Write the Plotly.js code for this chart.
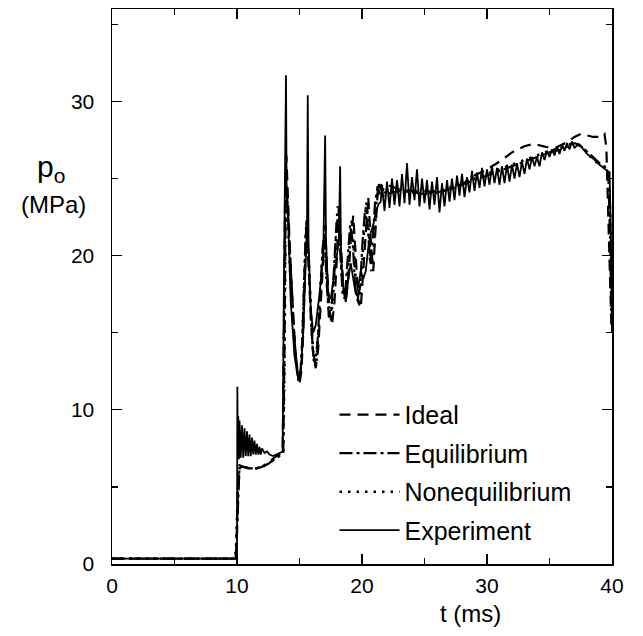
<!DOCTYPE html>
<html>
<head>
<meta charset="utf-8">
<script src="https://cdn.plot.ly/plotly-3.0.1.min.js"></script>
<style>html,body{margin:0;padding:0;background:#fff;}#chart{width:643px;height:636px;}</style>
</head>
<body>
<div id="chart"></div>
<script>
// ---- data ----
const seriesNames = ["Ideal", "Equilibrium", "Nonequilibrium", "Experiment"];

const idealT = [0, 9.9, 10.0, 10.1, 10.2, 10.5, 11.0, 11.5, 12.0, 12.5, 13.0, 13.4, 13.65, 13.75, 13.85, 13.95, 14.2, 14.5, 14.8, 15.0, 15.15, 15.3, 15.45, 15.55, 15.7, 15.9, 16.1, 16.3, 16.5, 16.7, 16.9, 17.05, 17.2, 17.4, 17.6, 17.8, 18.0, 18.15, 18.3, 18.5, 18.7, 18.9, 19.1, 19.3, 19.5, 19.7, 19.9, 20.1, 20.3, 20.5, 20.7, 20.9, 21.1, 21.3, 21.6, 22, 23, 24, 25, 26, 27, 28, 29, 30, 31, 32, 33, 33.5, 34, 34.5, 35, 35.5, 36, 36.5, 37, 37.5, 38, 38.5, 39, 39.4, 39.55, 39.65, 39.8, 39.95];
const idealP = [0.35, 0.35, 2.5, 5.5, 6.4, 6.3, 6.2, 6.2, 6.3, 6.6, 6.9, 7.1, 7.3, 15, 24, 26.5, 21, 16, 12.5, 11.7, 12.5, 15, 19, 22.3, 20, 16, 13.5, 12.7, 14, 17, 20, 22, 19, 16.5, 15.5, 17, 20, 23.2, 21, 18, 17, 18.5, 21, 22.6, 20, 17, 16.6, 19, 22, 23.8, 21, 19, 22, 24.7, 24.2, 24.6, 24.3, 24.2, 24.2, 24.1, 24.3, 24.6, 25.2, 25.6, 26.1, 26.7, 27.1, 27.2, 27.2, 27.1, 27.0, 27.0, 27.2, 27.4, 27.7, 27.9, 27.8, 27.7, 27.7, 27.9, 27.0, 24, 19, 15.4];

const equilT = [0, 9.9, 10.0, 10.1, 10.2, 10.5, 11.0, 11.5, 12.0, 12.5, 13.0, 13.4, 13.7, 13.8, 13.9, 14.0, 14.3, 14.6, 14.9, 15.05, 15.2, 15.35, 15.5, 15.65, 15.85, 16.05, 16.25, 16.45, 16.65, 16.85, 17.0, 17.15, 17.35, 17.55, 17.75, 17.95, 18.1, 18.25, 18.45, 18.65, 18.85, 19.05, 19.25, 19.45, 19.65, 19.85, 20.05, 20.25, 20.45, 20.65, 20.85, 21.05, 21.25, 21.5, 22, 23, 24, 25, 26, 27, 28, 29, 30, 31, 32, 33, 34, 35, 36, 36.5, 37, 37.4, 37.8, 38.2, 38.6, 39, 39.4, 39.7, 39.85, 39.95];
const equilP = [0.35, 0.35, 2, 5, 6.3, 6.3, 6.2, 6.2, 6.3, 6.5, 6.8, 7.0, 7.2, 14, 25, 24, 19, 14.5, 12.0, 12.2, 14, 17.5, 21.5, 21, 17, 14, 13.0, 14.5, 17.5, 20.5, 21.5, 18.5, 16, 16.5, 19, 22, 22.5, 20, 17.5, 17.5, 20, 22, 21, 18, 17.2, 18, 21, 23, 22, 19.5, 21, 23.5, 24.5, 23.8, 24.0, 24.2, 24.1, 24.0, 24.1, 24.3, 24.6, 24.9, 25.2, 25.5, 25.8, 26.1, 26.4, 26.7, 26.9, 27.1, 27.3, 27.2, 26.9, 26.6, 26.3, 26.0, 25.8, 25.5, 21, 16];

const noneqT = [0, 9.85, 9.95, 10.05, 10.2, 10.5, 11.0, 11.5, 12.0, 12.5, 13.0, 13.4, 13.7, 13.8, 13.9, 14.05, 14.3, 14.6, 14.9, 15.1, 15.25, 15.4, 15.55, 15.75, 15.95, 16.15, 16.35, 16.55, 16.75, 16.95, 17.1, 17.3, 17.5, 17.7, 17.9, 18.05, 18.2, 18.4, 18.6, 18.8, 19.0, 19.2, 19.35, 19.55, 19.75, 19.95, 20.15, 20.35, 20.55, 20.75, 20.95, 21.15, 21.4, 21.7, 22, 23, 24, 25, 26, 27, 28, 29, 30, 31, 32, 33, 34, 35, 36, 36.5, 37, 37.5, 37.9, 38.3, 38.7, 39.1, 39.5, 39.75, 39.9, 39.98];
const noneqP = [0.35, 0.35, 1.5, 4.5, 6.2, 6.3, 6.2, 6.2, 6.3, 6.5, 6.8, 7.0, 7.2, 13, 24.5, 23, 18, 14, 11.9, 12.4, 15, 19, 22.2, 19.5, 15.5, 13.2, 13.0, 15.5, 19, 21, 20, 17, 15.8, 17.5, 21, 23.2, 22, 18.5, 17.2, 18, 20.5, 22.4, 20.5, 17.5, 16.8, 18.5, 21.5, 23.5, 21.5, 19, 20.5, 23.5, 24.8, 24.2, 24.0, 24.3, 24.2, 24.0, 24.2, 24.4, 24.7, 25.0, 25.3, 25.6, 25.9, 26.2, 26.5, 26.8, 27.0, 27.2, 27.3, 27.1, 26.8, 26.4, 26.1, 25.9, 25.6, 25.4, 21.5, 16.5];

const expT = [0, 9.95, 10.0, 10.03, 10.06, 10.1, 10.15, 10.2, 10.3, 10.4, 10.5, 10.6, 10.7, 10.8, 10.9, 11.0, 11.1, 11.2, 11.3, 11.4, 11.5, 11.6, 11.7, 11.8, 11.9, 12.0, 12.2, 12.4, 12.6, 12.9, 13.2, 13.5, 13.65,
  13.75, 13.85, 13.92, 13.97, 14.1, 14.3, 14.6, 14.9, 15.1, 15.3, 15.45, 15.6, 15.66, 15.72, 15.9, 16.1, 16.3, 16.6, 16.9, 17.05, 17.12, 17.3, 17.5, 17.7, 17.9, 18.15, 18.25, 18.32, 18.5, 18.7, 18.9, 19.1, 19.3, 19.5, 19.7, 19.9, 20.1, 20.3, 20.5, 20.7, 20.9, 21.1, 21.3, 21.5,
  21.6, 21.8, 22.0, 22.2, 22.4, 22.6, 22.8, 23.0, 23.2, 23.4, 23.6, 23.8, 24.0, 24.2, 24.4, 24.6, 24.8, 25.0, 25.2, 25.4, 25.6, 25.8, 26.0, 26.2, 26.4, 26.6, 26.8, 27.0, 27.2, 27.4, 27.6, 27.8, 28.0, 28.2, 28.4, 28.6, 28.8, 29.0, 29.2, 29.4, 29.6, 29.8,
  30.0, 30.2, 30.4, 30.6, 30.8, 31.0, 31.2, 31.4, 31.6, 31.8, 32.0, 32.2, 32.4, 32.6, 32.8, 33.0, 33.2, 33.4, 33.6, 33.8, 34.0, 34.2, 34.4, 34.6, 34.8, 35.0, 35.2, 35.4, 35.6, 35.8, 36.0, 36.2, 36.4, 36.6, 36.8, 37.0,
  37.3, 37.6, 38.0, 38.5, 39.0, 39.5, 39.8, 39.9, 40.0];
const expP = [0.35, 0.35, 0.5, 11.5, 7.0, 9.6, 6.8, 9.3, 6.9, 9.0, 6.9, 8.8, 7.0, 8.6, 7.0, 8.4, 7.0, 8.2, 7.1, 8.0, 7.1, 7.8, 7.1, 7.6, 7.1, 7.5, 7.2, 7.3, 7.1, 7.0, 7.1, 7.2, 7.3,
  18, 26, 31.7, 24, 22, 17, 13.5, 12.0, 12.5, 15, 19, 22, 30.4, 21, 16.5, 15, 15.5, 17.5, 20, 27.8, 21, 17.5, 17.2, 18.5, 19.5, 21, 25.8, 20, 18, 17, 18.5, 19.5, 18.5, 17.5, 18, 19, 18.5, 19, 20.5, 21.5, 22, 22.8, 23.3, 23.5,
  24.6, 22.9, 24.8, 23.1, 25.0, 23.3, 24.9, 23.2, 25.3, 23.4, 26.0, 23.3, 25.1, 23.6, 25.6, 23.2, 25.0, 23.4, 24.9, 23.0, 24.8, 23.3, 25.1, 22.8, 24.7, 23.2, 24.9, 23.5, 25.0, 23.6, 25.2, 23.9, 25.3, 23.8, 25.1, 24.1, 25.5, 24.2, 25.4, 24.4, 25.7, 24.5,
  25.6, 24.6, 25.8, 24.7, 25.7, 24.6, 25.8, 24.7, 25.9, 24.8, 25.9, 25.0, 26.0, 25.1, 26.1, 25.3, 26.3, 25.6, 26.4, 25.8, 26.4, 25.8, 26.7, 26.2, 26.8, 26.4, 26.9, 26.5, 27.1, 26.6, 27.2, 26.8, 27.3, 26.9, 27.4, 27.0,
  27.2, 27.0, 26.6, 26.3, 25.9, 25.6, 25.4, 22, 15];

const xTickVals = [0, 10, 20, 30, 40];
const yTickVals = [0, 10, 20, 30];

// ---- chart ----
const font = "Liberation Sans, Arial, Helvetica, sans-serif";
const dashes = ["11px,7px", "13px,4px,3px,4px", "2.5px,6px", "solid"];
const widths = [2.2, 2.2, 2.6, 1.8];
const xs = [idealT, equilT, noneqT, expT];
const ys = [idealP, equilP, noneqP, expP];

const traces = seriesNames.map((n, i) => ({
  type: "scatter", mode: "lines", name: n,
  x: xs[i], y: ys[i],
  legendgroup: "g" + i,
  line: {color: "#000", width: widths[i], dash: dashes[i]}
}));

const axisCommon = {
  showline: true, linecolor: "#000", linewidth: 1.5, mirror: "ticks",
  ticks: "inside", ticklen: 10, tickwidth: 1.3, tickcolor: "#000",
  showgrid: false, zeroline: false,
  tickfont: {family: font, size: 21, color: "#000"},
  minor: {dtick: 5, ticks: "inside", ticklen: 6, tickwidth: 1.3, tickcolor: "#000", showgrid: false}
};

const layout = {
  width: 643, height: 636,
  margin: {l: 112, r: 31, t: 9, b: 72},
  paper_bgcolor: "#fff", plot_bgcolor: "#fff",
  font: {family: font, color: "#000"},
  showlegend: true,
  legend: {
    x: 0.445, xanchor: "left", y: 0.31, yanchor: "top",
    bgcolor: "rgba(0,0,0,0)", borderwidth: 0,
    font: {family: font, size: 25, color: "#000"},
    traceorder: "grouped", tracegroupgap: 3, itemwidth: 60
  },
  xaxis: Object.assign({}, axisCommon, {
    range: [0, 40], tickvals: xTickVals, ticklabelstandoff: 2
  }),
  yaxis: Object.assign({}, axisCommon, {
    range: [0, 36], tickvals: yTickVals, ticklabelstandoff: 12
  }),
  annotations: [
    {xref: "paper", yref: "paper", x: 0.716, y: -0.09, xanchor: "center", yanchor: "middle",
     text: "t (ms)", showarrow: false, font: {family: font, size: 24, color: "#000"}},
    {xref: "paper", yref: "paper", x: -0.122, y: 0.712, xanchor: "center", yanchor: "middle",
     text: "p<sub>o</sub>", showarrow: false, font: {family: font, size: 30, color: "#000"}},
    {xref: "paper", yref: "paper", x: -0.118, y: 0.647, xanchor: "center", yanchor: "middle",
     text: "(MPa)", showarrow: false, font: {family: font, size: 24, color: "#000"}}
  ]
};

Plotly.newPlot("chart", traces, layout, {displayModeBar: false, staticPlot: true});
</script>
</body>
</html>
